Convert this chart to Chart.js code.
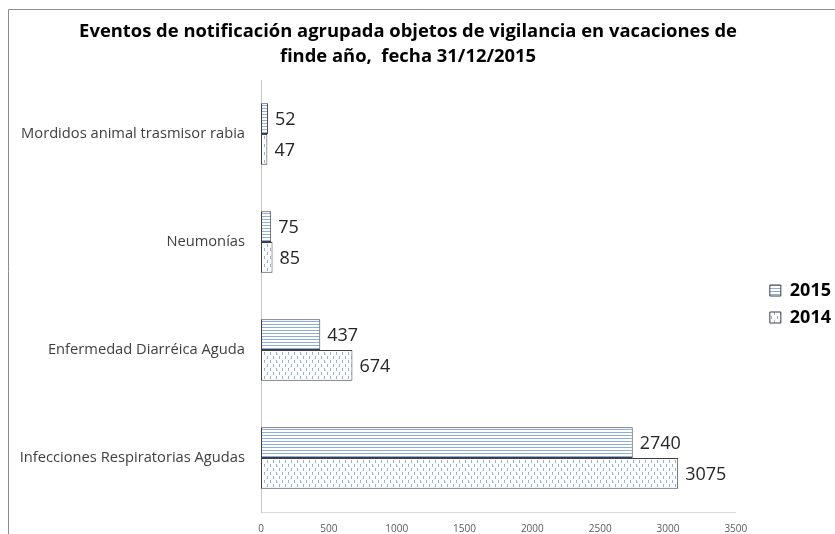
<!DOCTYPE html>
<html lang="es">
<head>
<meta charset="UTF-8">
<title>Eventos de notificación agrupada</title>
<style>
    body { margin: 0; background: #fff; }
    #wrap { width: 835px; height: 534px; }
</style>
</head>
<body>
<div id="wrap"><canvas id="chart"></canvas></div>

<script src="https://cdn.jsdelivr.net/npm/chart.js"></script>
<script>
    const categories = [
        'Mordidos animal trasmisor rabia',
        'Neumonías',
        'Enfermedad Diarréica Aguda',
        'Infecciones Respiratorias Agudas'
    ];
    const values2015 = [52, 75, 437, 2740];
    const values2014 = [47, 85, 674, 3075];
    const xTicks = [0, 500, 1000, 1500, 2000, 2500, 3000, 3500];

    const FONT = '"Open Sans", Lato, sans-serif';

    // horizontal stripes for 2015
    function stripePattern() {
        const c = document.createElement('canvas');
        c.width = 4; c.height = 3;
        const g = c.getContext('2d');
        g.fillStyle = '#ffffff';
        g.fillRect(0, 0, 4, 3);
        g.fillStyle = '#8eaede';
        g.fillRect(0, 0, 4, 1);
        return g.createPattern(c, 'repeat');
    }

    // dashed vertical dots for 2014
    function dotPattern() {
        const c = document.createElement('canvas');
        c.width = 6; c.height = 8;
        const g = c.getContext('2d');
        g.fillStyle = '#ffffff';
        g.fillRect(0, 0, 6, 8);
        g.fillStyle = '#8eb1e0';
        g.fillRect(0, 0, 1, 3);
        g.fillRect(3, 4, 1, 3);
        return g.createPattern(c, 'repeat');
    }

    const framePlugin = {
        id: 'frame',
        beforeDraw(chart) {
            const ctx = chart.ctx;
            ctx.save();
            ctx.strokeStyle = '#8c8c8c';
            ctx.lineWidth = 1;
            ctx.beginPath();
            ctx.moveTo(8.5, chart.height);
            ctx.lineTo(8.5, 9.5);
            ctx.lineTo(chart.width, 9.5);
            ctx.stroke();
            ctx.restore();
        }
    };

    // push the legend to the right edge, centred a bit lower
    const legendShift = {
        id: 'legendShift',
        afterLayout(chart) {
            const lg = chart.legend;
            if (!lg) return;
            const dx = chart.width + 6 - lg.right;
            const dy = 31;
            lg.left += dx; lg.right += dx;
            lg.top += dy; lg.bottom += dy;
        }
    };

    const valueLabels = {
        id: 'valueLabels',
        afterDatasetsDraw(chart) {
            const ctx = chart.ctx;
            ctx.save();
            ctx.font = '18px ' + FONT;
            ctx.fillStyle = '#262626';
            ctx.textBaseline = 'middle';
            ctx.textAlign = 'left';
            chart.data.datasets.forEach((ds, i) => {
                chart.getDatasetMeta(i).data.forEach((bar, j) => {
                    ctx.fillText(String(ds.data[j]), bar.x + 7, bar.y + 1);
                });
            });
            ctx.restore();
        }
    };

    new Chart(document.getElementById('chart'), {
        type: 'bar',
        data: {
            labels: categories,
            datasets: [
                {
                    label: '2015',
                    data: values2015,
                    backgroundColor: stripePattern(),
                    borderColor: '#404040',
                    borderWidth: 1,
                    borderSkipped: false
                },
                {
                    label: '2014',
                    data: values2014,
                    backgroundColor: dotPattern(),
                    borderColor: '#404040',
                    borderWidth: 1,
                    borderSkipped: false
                }
            ]
        },
        options: {
            indexAxis: 'y',
            responsive: true,
            maintainAspectRatio: false,
            animation: false,
            devicePixelRatio: 1,
            barPercentage: 1,
            categoryPercentage: 0.57,
            layout: { padding: { top: 12, right: 19, bottom: 0, left: 0 } },
            scales: {
                x: {
                    min: 0,
                    max: 3500,
                    afterBuildTicks(scale) {
                        scale.ticks = xTicks.map(v => ({ value: v }));
                    },
                    afterFit(scale) { scale.height = 22; },
                    grid: { display: false, drawTicks: false },
                    border: { display: true, color: '#d9d9d9' },
                    ticks: {
                        color: '#595959',
                        font: { family: FONT, size: 10 },
                        padding: 11,
                        maxRotation: 0,
                        callback: v => String(v)
                    }
                },
                y: {
                    afterFit(scale) {
                        scale.width = 261;
                        scale.paddingTop = 0;
                        scale.paddingBottom = 0;
                    },
                    grid: { display: false, drawTicks: false },
                    border: { display: true, color: '#c8c8c8' },
                    ticks: {
                        color: '#404040',
                        font: { family: FONT, size: 14.7 },
                        padding: 16
                    }
                }
            },
            plugins: {
                title: {
                    display: true,
                    text: [
                        'Eventos de notificación agrupada objetos de vigilancia en vacaciones de',
                        'finde año,  fecha 31/12/2015'
                    ],
                    color: '#000000',
                    font: { family: FONT, size: 18.4, weight: 'bold', lineHeight: 1.36 },
                    padding: { top: 7, bottom: 11 }
                },
                legend: {
                    position: 'right',
                    labels: {
                        color: '#000000',
                        font: { family: FONT, size: 18, weight: 'bold' },
                        boxWidth: 11,
                        boxHeight: 11,
                        padding: 9
                    }
                },
                tooltip: { enabled: false }
            }
        },
        plugins: [framePlugin, legendShift, valueLabels]
    });
</script>
</body>
</html>
